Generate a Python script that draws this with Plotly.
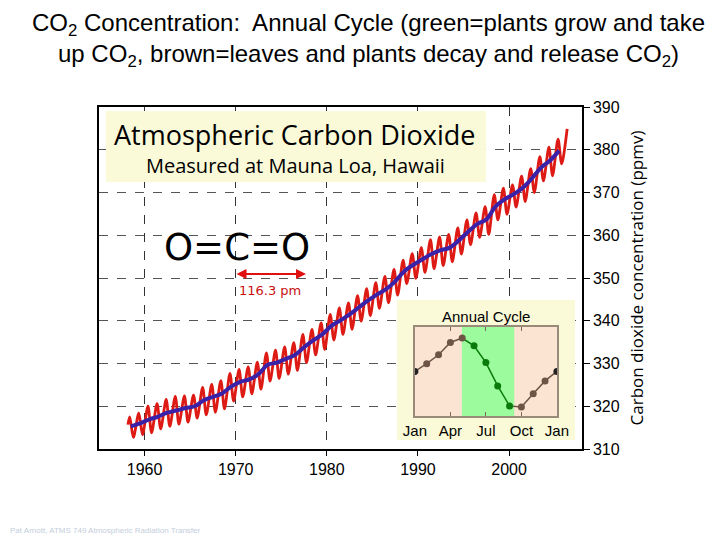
import plotly.graph_objects as go

# ---------------- data ----------------
# Annual mean (deseasonalised trend, blue line), ppmv
trend_years = [1958, 1959, 1960, 1961, 1962, 1963, 1964, 1965, 1966, 1967,
               1968, 1969, 1970, 1971, 1972, 1973, 1974, 1975, 1976, 1977,
               1978, 1979, 1980, 1981, 1982, 1983, 1984, 1985, 1986, 1987,
               1988, 1989, 1990, 1991, 1992, 1993, 1994, 1995, 1996, 1997,
               1998, 1999, 2000, 2001, 2002, 2003, 2004, 2005]
trend_values = [315.3, 316.0, 316.9, 317.6, 318.5, 319.0, 319.6, 320.0, 321.4, 322.2,
                323.0, 324.6, 325.7, 326.3, 327.5, 329.7, 330.2, 331.1, 332.0, 333.8,
                335.4, 336.8, 338.8, 340.1, 341.5, 343.1, 344.7, 346.1, 347.4, 349.2,
                351.6, 353.1, 354.4, 355.6, 356.5, 357.1, 358.8, 360.8, 362.6, 363.7,
                366.7, 368.4, 369.6, 371.1, 373.3, 375.8, 377.5, 379.8]

# Monthly record (red line): yearly May maxima and Sep/Oct minima, ppmv
record_start = (1958.17, 315.7)
peak_years = list(range(1958, 2007))
peak_values = [317.5, 318.4, 320.0, 320.6, 321.6, 322.3, 322.4, 322.6, 324.4, 325.1,
               326.0, 327.7, 328.6, 329.2, 330.3, 332.5, 333.1, 333.9, 334.9, 336.8,
               338.0, 339.5, 341.5, 343.0, 344.2, 345.9, 347.5, 348.9, 350.4, 352.0,
               354.2, 355.7, 357.1, 359.0, 359.6, 360.2, 361.7, 363.6, 365.2, 366.7,
               369.5, 371.0, 371.8, 373.8, 375.6, 378.4, 380.6, 382.5, 384.9]
trough_years = list(range(1958, 2006))
trough_values = [312.7, 313.3, 313.8, 314.7, 315.3, 315.8, 316.3, 317.2, 318.0, 318.6,
                 319.4, 321.2, 322.2, 322.9, 324.0, 325.9, 326.5, 327.5, 328.4, 330.2,
                 332.0, 333.3, 335.5, 336.8, 338.0, 339.9, 341.2, 342.9, 344.2, 346.0,
                 348.7, 349.9, 351.3, 352.2, 352.9, 353.8, 355.6, 357.8, 359.5, 360.2,
                 363.6, 364.9, 366.6, 367.9, 370.0, 372.7, 373.9, 376.7]
peak_month_frac = 0.37     # May
trough_month_frac = 0.77   # late Sep / Oct

# Annual cycle inset (relative ppmv), Jan .. Jan
cycle_months = list(range(13))
cycle_values = [0.0, 0.7, 1.5, 2.6, 3.0, 2.3, 0.8, -1.3, -3.1, -3.2, -2.0, -0.85, 0.0]
cycle_labels = ["Jan", "Apr", "Jul", "Oct", "Jan"]
cycle_label_pos = [0, 3, 6, 9, 12]
green_start, green_end = 3.97, 8.4

main_xticks = [1960, 1970, 1980, 1990, 2000]
main_yticks = [310, 320, 330, 340, 350, 360, 370, 380, 390]
X_RANGE = [1955, 2008]
Y_RANGE = [310, 390]
CYC_Y_RANGE = [-4, 4]

# ---------------- build ----------------
BROWN = "#6e5444"
GREEN = "#0a7a0a"

rec_x = [record_start[0]]
rec_y = [record_start[1]]
for i, yr in enumerate(peak_years):
    rec_x.append(yr + peak_month_frac)
    rec_y.append(peak_values[i])
    if i < len(trough_years):
        rec_x.append(trough_years[i] + trough_month_frac)
        rec_y.append(trough_values[i])

fig = go.Figure()
fig.add_trace(go.Scatter(x=rec_x, y=rec_y, mode="lines",
                         line=dict(color="#dd1a14", width=2.8, shape="spline", smoothing=0.8),
                         hoverinfo="skip", showlegend=False))
fig.add_trace(go.Scatter(x=[y + 0.5 for y in trend_years], y=trend_values, mode="lines",
                         line=dict(color="#3a22a8", width=4, shape="spline"),
                         hoverinfo="skip", showlegend=False))

# inset traces
fig.add_trace(go.Scatter(x=cycle_months[0:5], y=cycle_values[0:5], mode="lines",
                         line=dict(color=BROWN, width=1.5), xaxis="x2", yaxis="y2",
                         showlegend=False, hoverinfo="skip"))
fig.add_trace(go.Scatter(x=cycle_months[4:9], y=cycle_values[4:9], mode="lines",
                         line=dict(color=GREEN, width=1.5), xaxis="x2", yaxis="y2",
                         showlegend=False, hoverinfo="skip"))
fig.add_trace(go.Scatter(x=cycle_months[8:13], y=cycle_values[8:13], mode="lines",
                         line=dict(color=BROWN, width=1.5), xaxis="x2", yaxis="y2",
                         showlegend=False, hoverinfo="skip"))
pt_colors = ["#222222", BROWN, BROWN, BROWN, BROWN, GREEN, GREEN, GREEN, GREEN,
             BROWN, BROWN, BROWN, "#222222"]
fig.add_trace(go.Scatter(x=cycle_months, y=cycle_values, mode="markers",
                         marker=dict(color=pt_colors, size=7),
                         xaxis="x2", yaxis="y2", showlegend=False, hoverinfo="skip"))


def fx(f):
    return X_RANGE[0] + f * (X_RANGE[1] - X_RANGE[0])


def fy(f):
    return Y_RANGE[0] + f * (Y_RANGE[1] - Y_RANGE[0])


PALE = "#fafad8"
shapes = [
    # title box
    dict(type="rect", xref="x", yref="y", x0=fx(0.0145), x1=fx(0.801), y0=fy(0.781), y1=fy(0.988),
         fillcolor=PALE, line=dict(width=0), layer="between"),
    # inset box
    dict(type="rect", xref="x", yref="y", x0=fx(0.617), x1=fx(0.9855), y0=fy(0.026), y1=fy(0.436),
         fillcolor=PALE, line=dict(width=0), layer="between"),
    # inset background
    dict(type="rect", xref="x2", yref="y2", x0=cycle_months[0], x1=cycle_months[-1],
         y0=CYC_Y_RANGE[0], y1=CYC_Y_RANGE[1],
         fillcolor="#fbe4d2", line=dict(width=0), layer="between"),
    dict(type="rect", xref="x2", yref="y2", x0=green_start, x1=green_end,
         y0=CYC_Y_RANGE[0], y1=CYC_Y_RANGE[1],
         fillcolor="#9cfb9c", line=dict(width=0), layer="between"),
]


def ann(text, x, y, size, family, color="black", xanchor="center"):
    return dict(text=text, xref="paper", yref="paper", x=x, y=y, showarrow=False,
                xanchor=xanchor, yanchor="middle",
                font=dict(family=family, size=size, color=color))


ARIAL = "Liberation Sans, Arial"
annotations = [
    ann("CO<sub>2</sub> Concentration:  Annual Cycle (green=plants grow and take<br>"
        "up CO<sub>2</sub>, brown=leaves and plants decay and release CO<sub>2</sub>)",
        0.557, 1.197, 24, ARIAL),
    ann("Atmospheric Carbon Dioxide", 0.406, 0.921, 27, "Open Sans"),
    ann("Measured at Mauna Loa, Hawaii", 0.406, 0.830, 20, "Open Sans"),
    ann("O=C=O", 0.286, 0.588, 37, "DejaVu Sans"),
    dict(text="", xref="paper", yref="paper", x=0.4286, y=0.5117, ax=-71, ay=0,
         showarrow=True, arrowside="end+start", arrowhead=2, arrowsize=1,
         arrowwidth=2, arrowcolor="#e01010"),
    ann("116.3 pm", 0.354, 0.462, 13, "DejaVu Sans", color="#c81010"),
    ann("Annual Cycle", 0.801, 0.386, 15, ARIAL),
    ann("Pat Arnott, ATMS 749 Atmospheric Radiation Transfer", -0.188, -0.237, 8, ARIAL,
        color="#c4cedb", xanchor="left"),
]

fig.update_layout(
    width=720, height=540,
    margin=dict(l=99, r=138, t=107, b=91),
    paper_bgcolor="white", plot_bgcolor="white",
    shapes=shapes, annotations=annotations,
    xaxis=dict(range=X_RANGE, tickvals=main_xticks, ticks="outside", ticklen=5,
               tickcolor="black", showline=True, mirror=True, linecolor="black", linewidth=1.5,
               showgrid=True, gridcolor="#333333", griddash="dash", gridwidth=1.3,
               zeroline=False, tickfont=dict(family=ARIAL, size=16, color="black")),
    yaxis=dict(range=Y_RANGE, tickvals=main_yticks, side="right", ticks="outside", ticklen=6,
               tickcolor="black", showline=True, mirror=True, linecolor="black", linewidth=1.5,
               showgrid=True, gridcolor="#555555", griddash="dash", gridwidth=1,
               zeroline=False, tickfont=dict(family=ARIAL, size=16, color="black"),
               title=dict(text="Carbon dioxide concentration (ppmv)", standoff=12,
                          font=dict(family="Open Sans", size=17, color="black"))),
    xaxis2=dict(domain=[0.654, 0.948], range=[cycle_months[0], cycle_months[-1]], anchor="y2",
                tickvals=cycle_label_pos,
                ticktext=cycle_labels, ticks="inside", ticklen=4, tickcolor="#7a6a5a",
                showline=True, mirror="ticks", linecolor="#9a8a7a", linewidth=1.5,
                showgrid=False, zeroline=False,
                tickfont=dict(family=ARIAL, size=15, color="black")),
    yaxis2=dict(domain=[0.0965, 0.357], range=CYC_Y_RANGE, anchor="x2", showticklabels=False,
                ticks="", showline=True, mirror=True, linecolor="#9a8a7a", linewidth=1.5,
                showgrid=False, zeroline=False),
)

fig.write_html("out.html")
